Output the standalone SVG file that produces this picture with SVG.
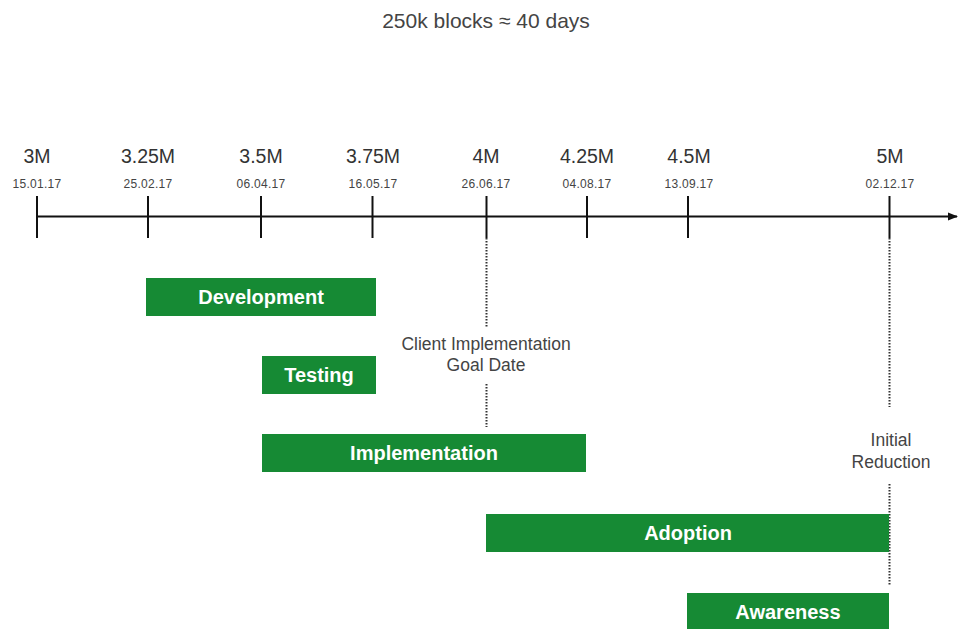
<svg xmlns="http://www.w3.org/2000/svg" width="958" height="629" viewBox="0 0 958 629">
<defs>
<style>
.t{font-family:"Liberation Sans",Arial,sans-serif;fill:#333;text-anchor:middle}
.h{font-size:21px;fill:#444}
.m{font-size:19.5px}
.d{font-size:12px;fill:#444;letter-spacing:0.3px}
.bar{fill:#168a34}
.bt{font-family:"Liberation Sans",Arial,sans-serif;font-weight:bold;font-size:20px;fill:#fff;text-anchor:middle}
.tick{stroke:#111;stroke-width:2}
.dot{stroke:#333;stroke-width:2;stroke-dasharray:1.5 1.5;fill:none}
.note{font-family:"Liberation Sans",Arial,sans-serif;font-size:17.5px;fill:#444;text-anchor:middle}
</style>
<marker id="ah" viewBox="0 0 10 10" refX="9" refY="5" markerWidth="5" markerHeight="5" orient="auto"><path d="M0,1 L10,5 L0,9 z" fill="#111"/></marker>
</defs>
<rect width="958" height="629" fill="#fff"/>
<text class="t h" x="486" y="28">250k blocks ≈ 40 days</text>
<g id="axis">
<line x1="36" y1="216.5" x2="957" y2="216.5" stroke="#111" stroke-width="2" marker-end="url(#ah)"/>
<g id="t3M"><line class="tick" x1="37" y1="196" x2="37" y2="238"/><text class="t m" x="37" y="163">3M</text><text class="t d" x="37" y="188">15.01.17</text></g>
<g id="t325M"><line class="tick" x1="148" y1="196" x2="148" y2="238"/><text class="t m" x="148" y="163">3.25M</text><text class="t d" x="148" y="188">25.02.17</text></g>
<g id="t35M"><line class="tick" x1="261" y1="196" x2="261" y2="238"/><text class="t m" x="261" y="163">3.5M</text><text class="t d" x="261" y="188">06.04.17</text></g>
<g id="t375M"><line class="tick" x1="372.5" y1="196" x2="372.5" y2="238"/><text class="t m" x="373" y="163">3.75M</text><text class="t d" x="373" y="188">16.05.17</text></g>
<g id="t4M"><line class="tick" x1="486.5" y1="196" x2="486.5" y2="238"/><text class="t m" x="486" y="163">4M</text><text class="t d" x="486" y="188">26.06.17</text></g>
<g id="t425M"><line class="tick" x1="587" y1="196" x2="587" y2="238"/><text class="t m" x="587" y="163">4.25M</text><text class="t d" x="587" y="188">04.08.17</text></g>
<g id="t45M"><line class="tick" x1="688" y1="196" x2="688" y2="238"/><text class="t m" x="689" y="163">4.5M</text><text class="t d" x="689" y="188">13.09.17</text></g>
<g id="t5M"><line class="tick" x1="889.5" y1="196" x2="889.5" y2="238"/><text class="t m" x="890" y="163">5M</text><text class="t d" x="890" y="188">02.12.17</text></g>
</g>
<g id="connectors">
<line class="dot" x1="486.5" y1="238" x2="486.5" y2="328"/>
<line class="dot" x1="486.5" y1="384" x2="486.5" y2="427"/>
<line class="dot" x1="889.5" y1="238" x2="889.5" y2="407"/>
<line class="dot" x1="889.5" y1="484" x2="889.5" y2="586"/>
</g>
<g id="goal"><text class="note" x="486" y="350">Client Implementation</text><text class="note" x="486" y="371">Goal Date</text></g>
<g id="initial"><text class="note" x="891" y="446">Initial</text><text class="note" x="891" y="468">Reduction</text></g>
<g id="development"><rect class="bar" x="146" y="278" width="230" height="38"/><text class="bt" x="261" y="304">Development</text></g>
<g id="testing"><rect class="bar" x="262" y="356" width="114" height="38"/><text class="bt" x="319" y="382">Testing</text></g>
<g id="implementation"><rect class="bar" x="262" y="434" width="324" height="38"/><text class="bt" x="424" y="460">Implementation</text></g>
<g id="adoption"><rect class="bar" x="486" y="514" width="403" height="38"/><text class="bt" x="688" y="540">Adoption</text></g>
<g id="awareness"><rect class="bar" x="687" y="593" width="202" height="38"/><text class="bt" x="788" y="619">Awareness</text></g>
</svg>
